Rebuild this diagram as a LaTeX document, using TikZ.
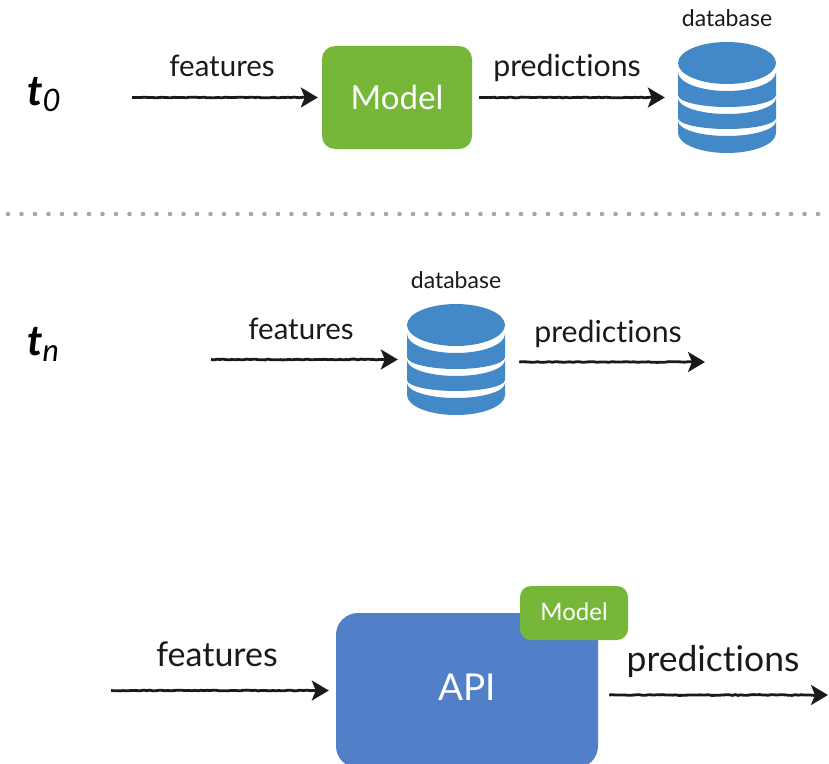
\documentclass[tikz,border=0pt]{standalone}
\usepackage{fontspec}
\setmainfont[Ligatures=CommonOff]{Lato}
\usetikzlibrary{arrows.meta,decorations.pathmorphing,calc}
\definecolor{mgreen}{HTML}{76B639}
\definecolor{dbblue}{HTML}{4389C7}
\definecolor{apiblue}{HTML}{5180C8}
\definecolor{dotgray}{HTML}{A6A6A6}
\definecolor{ink}{HTML}{1A1A1A}
\newcommand{\fs}[1]{\fontsize{#1}{#1}\selectfont}
\newcommand{\stampt}[1]{{\fs{42}\bfseries\itshape t}\raisebox{-6pt}{\fs{31}\itshape #1}}
\tikzset{
  flow/.style={draw=ink,line width=2.8pt,-{Stealth[length=17pt,width=20pt,inset=4pt]},
    decorate,decoration={random steps,segment length=3pt,amplitude=0.4pt,post length=12pt}},
  lab/.style={text=ink,font=\fs{29.5},inner sep=0pt,anchor=center},
  predlab/.style={lab,font=\fs{30.3}},
  dblab/.style={text=ink,font=\fs{23},inner sep=0pt,anchor=center},
  stamp/.style={text=black,inner sep=0pt,anchor=base west},
  boxtext/.style={text=white,inner sep=0pt,anchor=center},
  mbox/.style={fill=mgreen,inner sep=0pt,rounded corners=#1},
  apibox/.style={fill=apiblue,inner sep=0pt,rounded corners=22pt},
  dbarea/.style={inner sep=0pt,minimum width=98pt,minimum height=111pt},
  dbicon/.pic={
    \fill[dbblue] (0,21) ellipse [x radius=49, y radius=21];
    \fill[dbblue] (-49,30) arc [start angle=180,end angle=0,x radius=49,y radius=19]
      -- (49,53) arc [start angle=0,end angle=180,x radius=49,y radius=12] -- cycle;
    \fill[dbblue] (-49,56) arc [start angle=180,end angle=0,x radius=49,y radius=16]
      -- (49,76) arc [start angle=0,end angle=180,x radius=49,y radius=11] -- cycle;
    \fill[dbblue] (-49,79) arc [start angle=180,end angle=0,x radius=49,y radius=15]
      -- (49,91) arc [start angle=0,end angle=180,x radius=49,y radius=20] -- cycle;
  }
}
\begin{document}
\begin{tikzpicture}[x=1pt,y=-1pt]
\useasboundingbox (0,0) rectangle (829,763);
\begin{scope}
\clip (0,0) rectangle (829,763);
% separator
\draw[dotgray,line width=4.6pt,line cap=round,dash pattern=on 0pt off 13.5pt] (8,214) -- (829,214);

% row t0
\node[stamp] (t0) at (27,105) {\stampt{0}};
\node[mbox=13pt,minimum width=150pt,minimum height=103pt] (m0) at (397,97.5) {};
\node[boxtext,font=\fs{33}] (m0t) at (397,97) {Model};
\pic at (727,42) {dbicon};
\node[dbarea] (d0) at (727,97.5) {};
\node[dblab] (d0l) at (727,18) {database};
\node[lab] (f0) at (222,66) {features};
\node[predlab] (p0) at (567,68) {predictions};
\coordinate (a0) at (132,97.5);
\draw[flow] (a0) -- ($(m0.west)+(-4,0)$);
\draw[flow] ($(m0.east)+(7,0)$) -- ($(d0.west)+(-13,0)$);

% row tn
\node[stamp] (tn) at (27,355) {\stampt{n}};
\pic at (456,304) {dbicon};
\node[dbarea] (d1) at (456,359.5) {};
\node[dblab] (d1l) at (456,280) {database};
\node[lab] (f1) at (301,329) {features};
\node[predlab] (p1) at (608,334) {predictions};
\coordinate (a1) at (211,359.5);
\coordinate (e1) at (705,362);
\draw[flow] (a1) -- ($(d1.west)+(-9,0)$);
\draw[flow] ($(d1.east)+(14,2.5)$) -- (e1);

% row API
\node[apibox,minimum width=262pt,minimum height=155pt] (api) at (467,690.5) {};
\node[boxtext,font=\fs{37}] (apit) at (467,687) {API};
\node[mbox=11pt,minimum width=108pt,minimum height=54pt] (m2) at (574,613) {};
\node[boxtext,font=\fs{24}] (m2t) at (574,612) {Model};
\node[lab,font=\fs{34}] (f2) at (217,654) {features};
\node[lab,font=\fs{35.5}] (p2) at (713,661) {predictions};
\coordinate (a2) at (111,690.5);
\coordinate (e2) at (828,695);
\draw[flow] (a2) -- ($(api.west)+(-7,0)$);
\draw[flow] ($(api.east)+(11,4.5)$) -- (e2);
\end{scope}
\end{tikzpicture}
\end{document}
